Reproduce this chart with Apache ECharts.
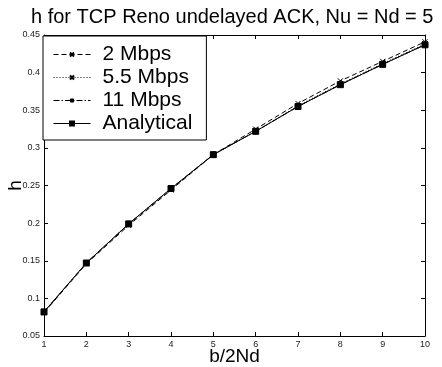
<!DOCTYPE html>
<html>
<head>
<meta charset="utf-8">
<script src="https://cdn.jsdelivr.net/npm/echarts@6/dist/echarts.min.js"></script>
<style>
  html, body { margin: 0; padding: 0; background: #fff; }
  #container { width: 442px; height: 367px; }
</style>
</head>
<body>
<div id="container"></div>
<script>
// x 轴：b/2Nd
var xValues = [1, 2, 3, 4, 5, 6, 7, 8, 9, 10];
// 各速率的仿真结果
var h2Mbps = [0.081, 0.146, 0.197, 0.244, 0.291, 0.325, 0.359, 0.389, 0.415, 0.441];
var h55Mbps = [0.082, 0.147, 0.199, 0.245, 0.291, 0.322, 0.356, 0.385, 0.412, 0.438];
var h11Mbps = [0.082, 0.147, 0.199, 0.246, 0.291, 0.322, 0.355, 0.384, 0.411, 0.437];
// 解析结果
var hAnalytical = [0.082, 0.147, 0.199, 0.246, 0.291, 0.322, 0.355, 0.384, 0.411, 0.437];
var seriesNames = ['2 Mbps', '5.5 Mbps', '11 Mbps', 'Analytical'];

var font = 'Liberation Sans, Arial, sans-serif';
var crossPath = 'path://M0,0L10,10M10,0L0,10';
var starPath = 'path://M0,0L10,10M10,0L0,10M5,-1L5,11M-1,5L11,5';

function pairs(ys) {
	var out = [];
	for (var i = 0; i < xValues.length; i++) {
		out.push([xValues[i], ys[i]]);
	}
	return out;
}

function makeSeries(name, ys, lineType, symbol, size) {
	return {
		name: name,
		type: 'line',
		data: pairs(ys),
		symbol: symbol,
		symbolSize: size,
		showAllSymbol: true,
		animation: false,
		lineStyle: { color: '#000', width: 1, type: lineType },
		itemStyle: { color: '#000', borderColor: '#000', borderWidth: 1 }
	};
}

var dom = document.getElementById('container');
var myChart = echarts.init(dom);

var option = {
	backgroundColor: '#fff',
	animation: false,
	title: {
		text: 'h for TCP Reno undelayed ACK, Nu = Nd = 5',
		left: 26,
		top: 2,
		textStyle: { fontFamily: font, fontSize: 20, fontWeight: 'normal', color: '#000' }
	},
	grid: { left: 44, right: 17, top: 35, bottom: 31, outerBoundsMode: 'none', containLabel: false },
	legend: {
		orient: 'vertical',
		left: 43,
		top: 36,
		data: seriesNames,
		itemWidth: 37,
		itemHeight: 5,
		itemGap: 2,
		padding: [8, 14, 6, 10],
		backgroundColor: '#fff',
		borderColor: '#000',
		borderWidth: 1,
		lineStyle: { width: 1 },
		textStyle: { fontFamily: font, fontSize: 21, color: '#000', padding: [0, 0, 0, 7] }
	},
	xAxis: [{
		type: 'value',
		min: 1,
		max: 10,
		interval: 1,
		name: 'b/2Nd',
		nameLocation: 'middle',
		nameGap: 11,
		nameMoveOverlap: false,
		nameTextStyle: { fontFamily: font, fontSize: 19, color: '#000' },
		axisLine: { lineStyle: { color: '#000', width: 1 } },
		axisTick: { inside: true, length: 4, lineStyle: { color: '#000' } },
		axisLabel: { fontFamily: font, fontSize: 9, color: '#222', margin: 4 },
		splitLine: { show: false }
	}, {
		type: 'value',
		position: 'top',
		min: 1,
		max: 10,
		interval: 1,
		axisLine: { lineStyle: { color: '#000', width: 1 } },
		axisTick: { inside: true, length: 4, lineStyle: { color: '#000' } },
		axisLabel: { show: false },
		splitLine: { show: false }
	}],
	yAxis: [{
		type: 'value',
		min: 0.05,
		max: 0.45,
		interval: 0.05,
		name: 'h',
		nameLocation: 'middle',
		nameGap: 19,
		nameRotate: 90,
		nameMoveOverlap: false,
		nameTextStyle: { fontFamily: font, fontSize: 19, color: '#000' },
		axisLine: { show: true, lineStyle: { color: '#000', width: 1 } },
		axisTick: { show: true, inside: true, length: 4, lineStyle: { color: '#000' } },
		axisLabel: {
			fontFamily: font, fontSize: 9, color: '#222', margin: 4,
			formatter: function (v) { return String(+v.toFixed(2)); }
		},
		splitLine: { show: false }
	}, {
		type: 'value',
		position: 'right',
		min: 0.05,
		max: 0.45,
		interval: 0.05,
		axisLine: { show: true, lineStyle: { color: '#000', width: 1 } },
		axisTick: { show: true, inside: true, length: 4, lineStyle: { color: '#000' } },
		axisLabel: { show: false },
		splitLine: { show: false }
	}],
	series: [
		makeSeries(seriesNames[0], h2Mbps, [5, 3], crossPath, 5),
		makeSeries(seriesNames[1], h55Mbps, [1, 2], crossPath, 5),
		makeSeries(seriesNames[2], h11Mbps, [6, 2, 1.5, 2], starPath, 6),
		makeSeries(seriesNames[3], hAnalytical, 'solid', 'rect', 6)
	]
};

myChart.setOption(option);
</script>
</body>
</html>
